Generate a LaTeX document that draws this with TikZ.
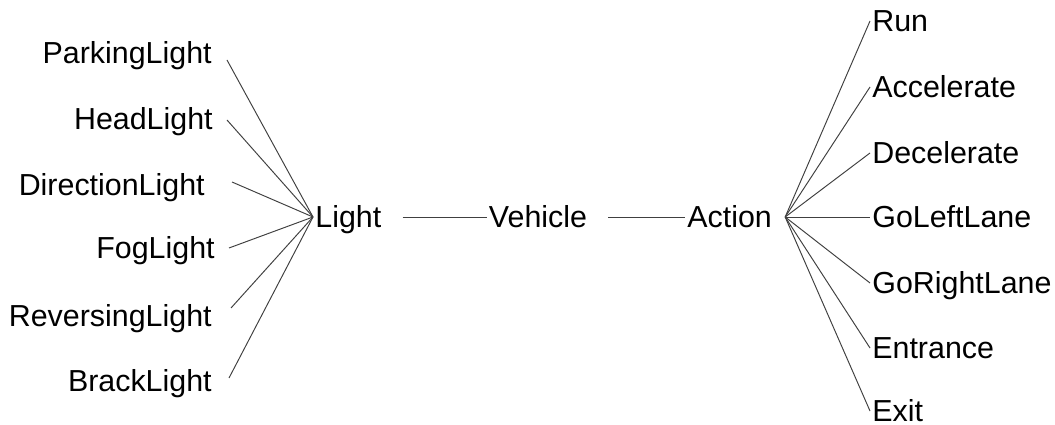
\documentclass[tikz,border=0pt]{standalone}
\usepackage{fontspec}
\setmainfont{Liberation Sans}
\usetikzlibrary{positioning, calc}

\begin{document}
\begin{tikzpicture}[x=0.02cm, y=-0.02cm, word/.style={
% The text:
font=\fontsize{17.3}{20}\selectfont,
% The size:
inner sep=0.04cm, text height=12.4pt, text depth=0pt
}, link/.style={
% The line:
draw=black!75, line width=0.55pt
}]

	\useasboundingbox (0,0) rectangle (1055,425);

	% middle row
	\node (L) [word, anchor=west] at (313,217) {Light};
	\node (V) [word] at (538,217) {Vehicle};
	\node (A) [word, anchor=west] at (685,217) {Action};

	% lights
	\node (PL) [word, anchor=east] at (214,53) {ParkingLight};
	\node (HL) [word, anchor=east] at (215,119) {HeadLight};
	\node (DL) [word, anchor=east] at (207,185) {DirectionLight};
	\node (FL) [word, anchor=east] at (217,248) {FogLight};
	\node (RL) [word, anchor=east] at (214,316) {ReversingLight};
	\node (BL) [word, anchor=east] at (214,381) {BrackLight};

	% actions
	\node (R) [word, anchor=west] at (870,21) {Run};
	\node (Acc) [word, anchor=west] at (870,87) {Accelerate};
	\node (Dec) [word, anchor=west] at (870,153) {Decelerate};
	\node (GLL) [word, anchor=west] at (870,217) {GoLeftLane};
	\node (GRL) [word, anchor=west] at (870,283) {GoRightLane};
	\node (Ent) [word, anchor=west] at (870,348) {Entrance};
	\node (Ex) [word, anchor=west] at (870,411) {Exit};

	\draw [link] ($(PL.east)+(13,7)$) -- (L.west);
	\draw [link] ($(HL.east)+(12,1)$) -- (L.west);
	\draw [link] ($(DL.east)+(25,-3)$) -- (L.west);
	\draw [link] ($(FL.east)+(12,0)$) -- (L.west);
	\draw [link] ($(RL.east)+(17,-8)$) -- (L.west);
	\draw [link] ($(BL.east)+(15,-3)$) -- (L.west);

	\draw [link] ($(L.east)+(19,0)$) -- (V.west);
	\draw [link] ($(V.east)+(19,0)$) -- (A.west);

	\draw [link] ($(A.east)+(11,0)$) -- (R.west);
	\draw [link] ($(A.east)+(11,0)$) -- (Acc.west);
	\draw [link] ($(A.east)+(11,0)$) -- (Dec.west);
	\draw [link] ($(A.east)+(11,0)$) -- (GLL.west);
	\draw [link] ($(A.east)+(11,0)$) -- (GRL.west);
	\draw [link] ($(A.east)+(11,0)$) -- (Ent.west);
	\draw [link] ($(A.east)+(11,0)$) -- (Ex.west);
\end{tikzpicture}
\end{document}
